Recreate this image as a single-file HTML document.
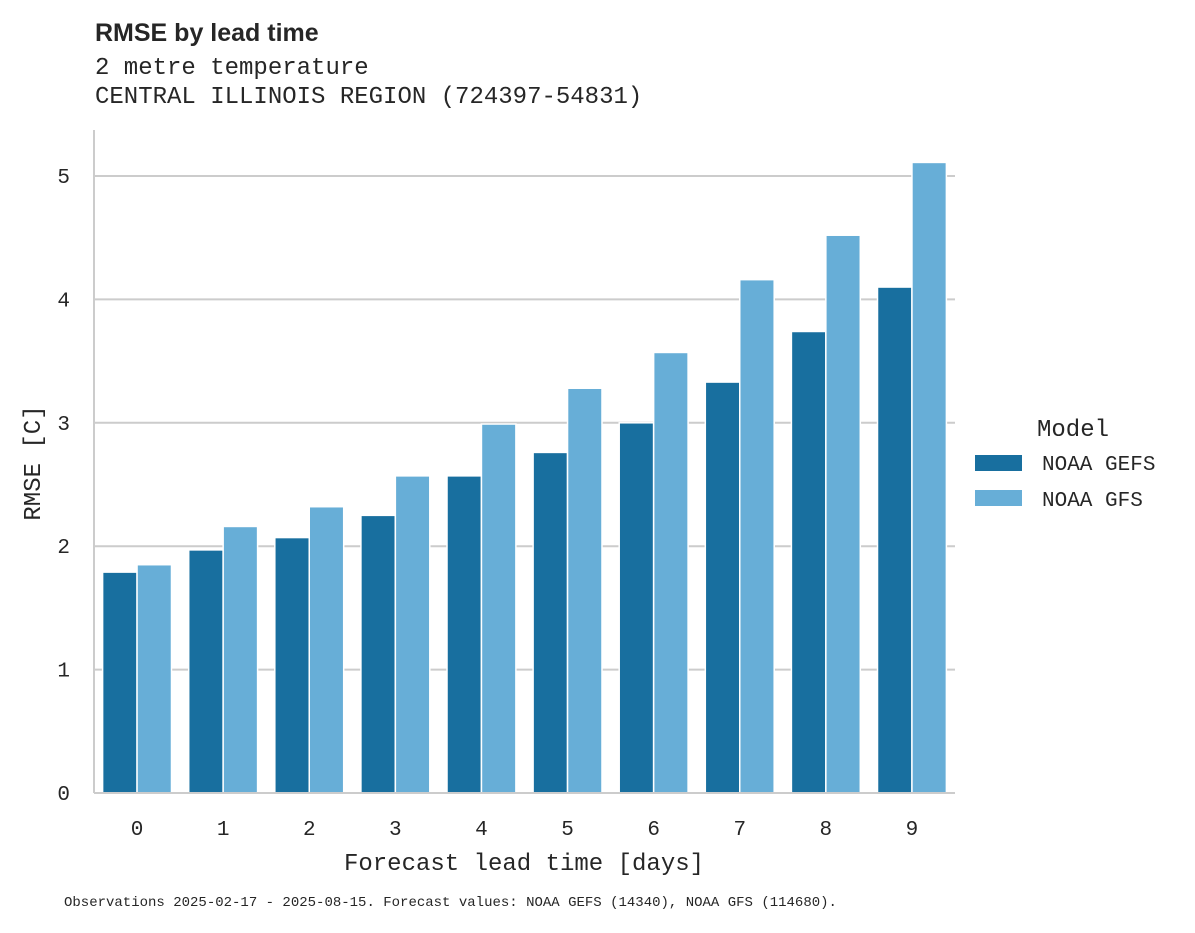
<!DOCTYPE html>
<html><head><meta charset="utf-8"><style>
body{margin:0;background:#fff;width:1195px;height:928px;overflow:hidden}
text{fill:#262626}
.mono{font-family:"Liberation Mono","DejaVu Sans Mono",monospace}
</style></head><body>
<svg id="chart" width="1195" height="928" xmlns="http://www.w3.org/2000/svg">
<text x="95" y="41" font-family="Liberation Sans, DejaVu Sans, sans-serif" font-weight="bold" font-size="25">RMSE by lead time</text>
<text class="mono" x="95" y="74" font-size="24">2 metre temperature</text>
<text class="mono" x="95" y="103" font-size="24">CENTRAL ILLINOIS REGION (724397-54831)</text>
<g id="grid"></g>
<g id="bars"></g>
<line x1="94" y1="130" x2="94" y2="793" stroke="#cccccc" stroke-width="2"/>
<line x1="94" y1="793" x2="955" y2="793" stroke="#cccccc" stroke-width="2"/>
<g id="yticks"></g>
<g id="xticks"></g>
<text class="mono" x="524" y="870" font-size="24" text-anchor="middle">Forecast lead time [days]</text>
<text class="mono" x="40" y="463" font-size="24" text-anchor="middle" transform="rotate(-90 40 463)">RMSE [C]</text>
<g>
<text class="mono" x="1073" y="436" font-size="24" text-anchor="middle">Model</text>
<rect x="975" y="455" width="47" height="16" fill="#186f9f"/>
<text class="mono" x="1042" y="470" font-size="21">NOAA GEFS</text>
<rect x="975" y="490" width="47" height="16" fill="#67aed7"/>
<text class="mono" x="1042" y="506" font-size="21">NOAA GFS</text>
</g>
<text class="mono" x="64" y="906" font-size="14">Observations 2025-02-17 - 2025-08-15. Forecast values: NOAA GEFS (14340), NOAA GFS (114680).</text>
</svg>
<script>
const categories=["0","1","2","3","4","5","6","7","8","9"];
const gefs=[1.79,1.97,2.07,2.25,2.57,2.76,3.00,3.33,3.74,4.10];
const gfs=[1.85,2.16,2.32,2.57,2.99,3.28,3.57,4.16,4.52,5.11];
const yTicks=[0,1,2,3,4,5];
const NS="http://www.w3.org/2000/svg";
const x0=94,x1=955,y0=793,pxPerUnit=123.4;
const band=(x1-x0)/categories.length;
function y(v){return y0-v*pxPerUnit;}
function xc(i){return x0+band*(i+0.5);}
const grid=document.getElementById('grid'),yt=document.getElementById('yticks'),xt=document.getElementById('xticks'),bars=document.getElementById('bars');
yTicks.forEach(t=>{
 if(t>0){const l=document.createElementNS(NS,'line');
 l.setAttribute('x1',x0);l.setAttribute('x2',x1);l.setAttribute('y1',y(t));l.setAttribute('y2',y(t));
 l.setAttribute('stroke','#cccccc');l.setAttribute('stroke-width','2');
 
 
 grid.appendChild(l);}
 const tx=document.createElementNS(NS,'text');
 tx.setAttribute('x',70);tx.setAttribute('y',y(t)+7);tx.setAttribute('font-size','21');tx.setAttribute('text-anchor','end');tx.setAttribute('class','mono');
 tx.textContent=t;
 
 
 yt.appendChild(tx);
});
const bw=band*0.4;
categories.forEach((c,i)=>{
 const tx=document.createElementNS(NS,'text');
 tx.setAttribute('x',xc(i));tx.setAttribute('y',835);tx.setAttribute('font-size','21');tx.setAttribute('text-anchor','middle');tx.setAttribute('class','mono');
 tx.textContent=c;
 
 
 xt.appendChild(tx);
 [[gefs,'#186f9f',-1,'gefs'],[gfs,'#67aed7',0,'gfs']].forEach(([arr,col,off,nm])=>{
  const r=document.createElementNS(NS,'rect');
  r.setAttribute('x',xc(i)+off*bw);r.setAttribute('width',bw);
  r.setAttribute('y',y(arr[i]));r.setAttribute('height',y0-y(arr[i]));
  r.setAttribute('fill',col);r.setAttribute('stroke','#fff');r.setAttribute('stroke-width','1.5');
  
  
  bars.appendChild(r);
 });
});
</script>
</body></html>
